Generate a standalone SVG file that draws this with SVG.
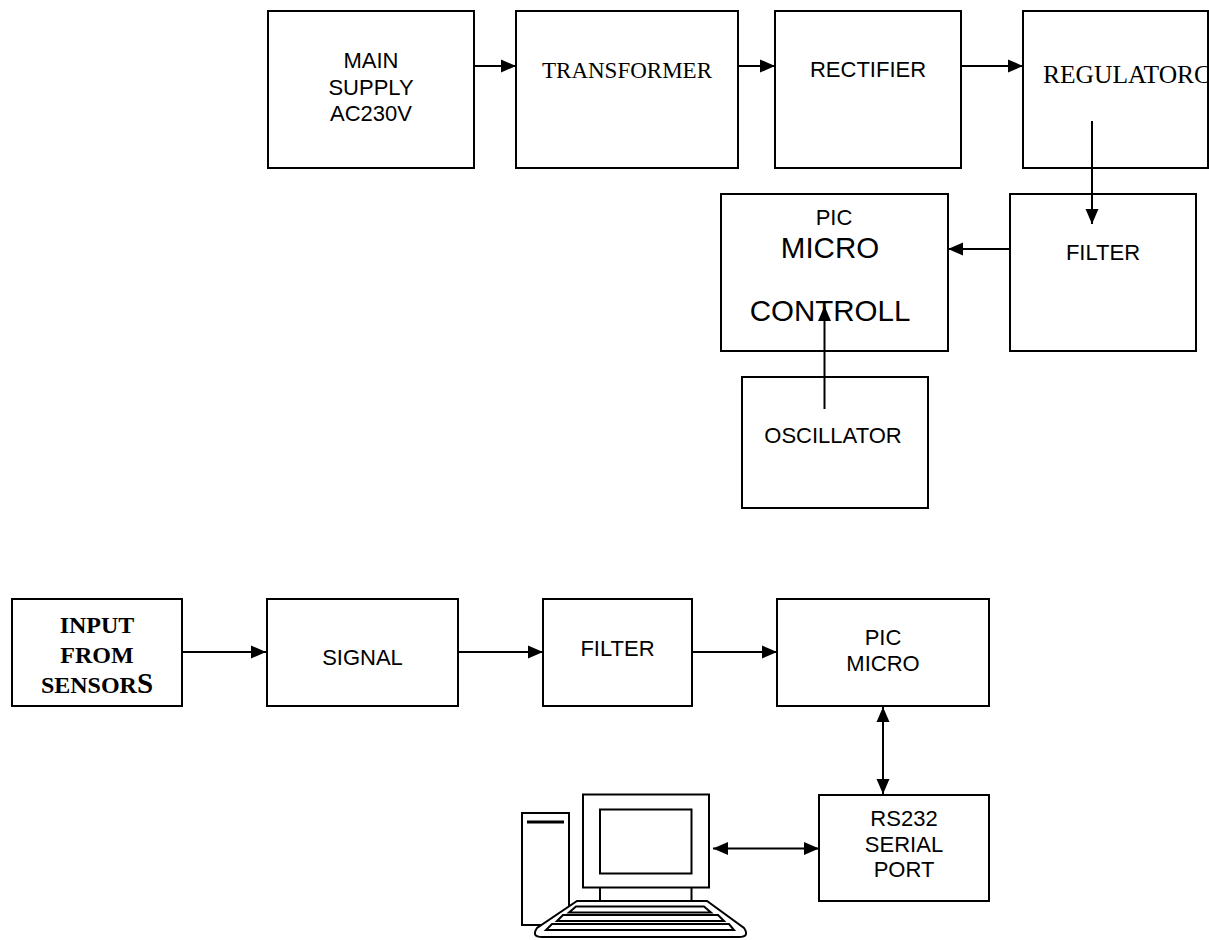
<svg xmlns="http://www.w3.org/2000/svg" width="1209" height="940" viewBox="0 0 1209 940">
<style>
.box{fill:#fff;stroke:#000;stroke-width:2}
.ln{fill:none;stroke:#000;stroke-width:2}
.sans{font-family:"Liberation Sans",Arial,sans-serif;font-size:22px;fill:#000;text-anchor:middle}
.big{font-size:29.5px}
.serif{font-family:"Liberation Serif","Times New Roman",serif;fill:#000}
</style>
<defs>
<marker id="ah" markerUnits="userSpaceOnUse" markerWidth="16" markerHeight="14" viewBox="0 0 15 14" refX="15" refY="7" orient="auto-start-reverse">
<path d="M0,0.5 L15,7 L0,13.5 Z" fill="#000"/>
</marker>
<clipPath id="regclip"><rect x="1024" y="12" width="183" height="155"/></clipPath>
</defs>
<rect width="1209" height="940" fill="#fff"/>

<g id="main-supply">
<rect class="box" x="268" y="11" width="206" height="157"/>
<text class="sans" x="371" y="68">MAIN</text>
<text class="sans" x="371" y="94.5">SUPPLY</text>
<text class="sans" x="371" y="121">AC230V</text>
</g>
<g id="transformer">
<rect class="box" x="516" y="11" width="222" height="157"/>
<text class="serif" x="627" y="78" font-size="23" text-anchor="middle">TRANSFORMER</text>
</g>
<g id="rectifier">
<rect class="box" x="775" y="11" width="186" height="157"/>
<text class="sans" x="868" y="77">RECTIFIER</text>
</g>
<g id="regulator">
<rect class="box" x="1023" y="11" width="185" height="157"/>
<text class="serif" x="1043" y="83" font-size="25.5" clip-path="url(#regclip)">REGULATORC</text>
</g>
<g id="pic-micro-controller">
<rect class="box" x="721" y="194" width="227" height="157"/>
<text class="sans" x="834" y="225">PIC</text>
<text class="sans big" x="830" y="258">MICRO</text>
<text class="sans big" x="830" y="321">CONTROLL</text>
</g>
<g id="filter-top">
<rect class="box" x="1010" y="194" width="186" height="157"/>
<text class="sans" x="1103" y="260">FILTER</text>
</g>
<g id="oscillator">
<rect class="box" x="742" y="377" width="186" height="131"/>
<text class="sans" x="833" y="443">OSCILLATOR</text>
</g>

<g id="input-sensors">
<rect class="box" x="12" y="599" width="170" height="107"/>
<text class="serif" x="97" y="633" font-size="24" font-weight="bold" text-anchor="middle">INPUT</text>
<text class="serif" x="97" y="662.5" font-size="24" font-weight="bold" text-anchor="middle">FROM</text>
<text class="serif" x="97" y="693" font-size="24" font-weight="bold" text-anchor="middle">SENSOR<tspan font-size="29">S</tspan></text>
</g>
<g id="signal">
<rect class="box" x="267" y="599" width="191" height="107"/>
<text class="sans" x="362.5" y="665">SIGNAL</text>
</g>
<g id="filter-bottom">
<rect class="box" x="543" y="599" width="149" height="107"/>
<text class="sans" x="617.5" y="656">FILTER</text>
</g>
<g id="pic-micro">
<rect class="box" x="777" y="599" width="212" height="107"/>
<text class="sans" x="883" y="645">PIC</text>
<text class="sans" x="883" y="671">MICRO</text>
</g>
<g id="rs232">
<rect class="box" x="819" y="795" width="170" height="106"/>
<text class="sans" x="904" y="826">RS232</text>
<text class="sans" x="904" y="852">SERIAL</text>
<text class="sans" x="904" y="877">PORT</text>
</g>
<g id="computer">
<rect class="box" x="522" y="813" width="47" height="112"/>
<line x1="527" y1="822" x2="564" y2="822" stroke="#000" stroke-width="3"/>
<rect class="box" x="583" y="794.5" width="126" height="93"/>
<rect class="box" x="600" y="809.5" width="91.5" height="64"/>
<line class="ln" x1="600" y1="887.5" x2="600" y2="901"/>
<line class="ln" x1="691.5" y1="887.5" x2="691.5" y2="901"/>
<path class="box" d="M577,901 L707,901 L744,928 Q750,937 739,937 L542,937 Q531,937 537,928 Z"/>
<path class="box" d="M576,906.5 L704,906.5 L711,912.5 L569,912.5 Z"/>
<path class="box" d="M563,915 L718,915 L724,921 L557,921 Z"/>
<path class="box" d="M552,924 L729,924 L734,930 L546,930 Z"/>
</g>

<g id="connectors">
<line class="ln" x1="474" y1="66" x2="516" y2="66" marker-end="url(#ah)"/>
<line class="ln" x1="738" y1="66" x2="775" y2="66" marker-end="url(#ah)"/>
<line class="ln" x1="961" y1="66" x2="1023" y2="66" marker-end="url(#ah)"/>
<line class="ln" x1="1092" y1="121" x2="1092" y2="224" marker-end="url(#ah)"/>
<line class="ln" x1="1010" y1="249" x2="948" y2="249" marker-end="url(#ah)"/>
<line class="ln" x1="824.5" y1="409" x2="824.5" y2="306" marker-end="url(#ah)"/>
<line class="ln" x1="182" y1="652" x2="266" y2="652" marker-end="url(#ah)"/>
<line class="ln" x1="458" y1="652" x2="543" y2="652" marker-end="url(#ah)"/>
<line class="ln" x1="692" y1="652" x2="777" y2="652" marker-end="url(#ah)"/>
<line class="ln" x1="883" y1="707" x2="883" y2="794" marker-start="url(#ah)" marker-end="url(#ah)"/>
<line class="ln" x1="713" y1="848.5" x2="819" y2="848.5" marker-start="url(#ah)" marker-end="url(#ah)"/>
</g>
</svg>
